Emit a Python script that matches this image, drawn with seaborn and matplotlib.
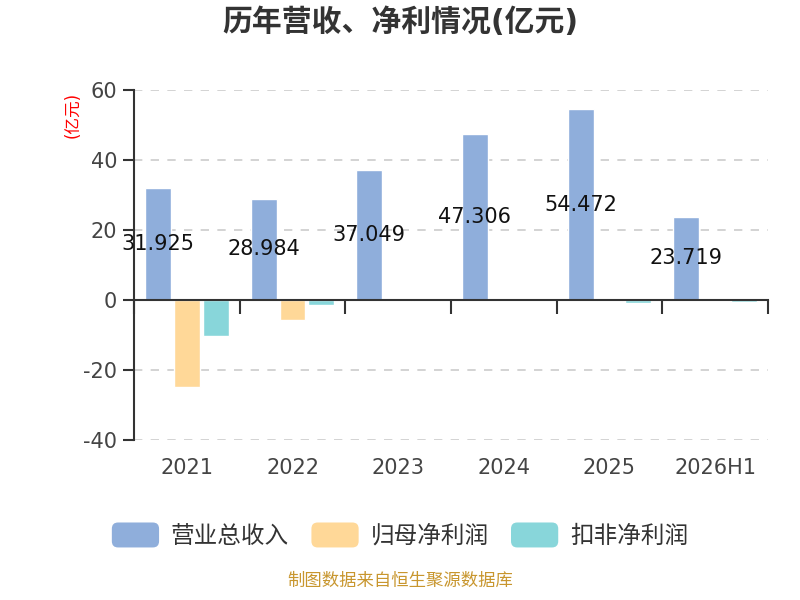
import matplotlib
matplotlib.use("Agg")
import matplotlib.pyplot as plt
import seaborn as sns
import pandas as pd
from matplotlib.patches import FancyBboxPatch
from matplotlib.legend_handler import HandlerPatch

years = ["2021", "2022", "2023", "2024", "2025", "2026H1"]
revenue = [31.925, 28.984, 37.049, 47.306, 54.472, 23.719]
net_profit = [-25.0, -5.85, -0.3, 0.3, -0.4, -0.3]
deducted_profit = [-10.4, -1.3, -0.3, 0.2, -1.0, -0.5]
series_names = ["营业总收入", "归母净利润", "扣非净利润"]
colors = ["#8FAEDB", "#FFD898", "#88D6DA"]

df = pd.DataFrame({
    "year": years * 3,
    "value": revenue + net_profit + deducted_profit,
    "series": [series_names[0]] * 6 + [series_names[1]] * 6 + [series_names[2]] * 6,
})

sns.set_theme(style="white")
plt.rcParams['font.family'] = ['DejaVu Sans', 'Noto Sans CJK SC']
plt.rcParams['axes.unicode_minus'] = False

fig = plt.figure(figsize=(8, 6), dpi=100)
ax = fig.add_axes([0.1675, 0.2667, 0.7925, 0.5833])

sns.barplot(data=df, x="year", y="value", hue="series", palette=colors,
            width=0.82, gap=0.1, ax=ax, legend=False, saturation=1, errorbar=None)

ax.set_ylim(-40, 60)
ax.set_xlim(-0.5, 5.5)
ax.set_yticks([-40, -20, 0, 20, 40, 60])
ax.tick_params(axis='y', labelsize=15, colors='#333333', length=8, width=1.5, pad=4, direction='out', left=True)
for lab in ax.get_yticklabels():
    lab.set_color('#444444')
for y in [-40, -20, 20, 40, 60]:
    ax.axhline(y, color='#cccccc', linestyle=(0, (5, 5)), linewidth=1.2, zorder=0)

for s in ['top', 'right']:
    ax.spines[s].set_visible(False)
ax.spines['left'].set_color('#333333')
ax.spines['left'].set_linewidth(1.5)
ax.spines['bottom'].set_position(('data', 0))
ax.spines['bottom'].set_color('#333333')
ax.spines['bottom'].set_linewidth(1.5)
ax.set_xticks([i - 0.5 for i in range(7)])
ax.set_xticklabels([])
ax.tick_params(axis='x', length=10, width=1.5, colors='#333333', direction='out', bottom=True)
ax.set_xlabel("")
ax.set_ylabel("")

sec = ax.secondary_xaxis('bottom')
sec.set_xticks(range(len(years)))
sec.set_xticklabels(years)
sec.tick_params(length=0, labelsize=15, pad=13, colors='#444444')
sec.spines['bottom'].set_visible(False)

for p in ax.containers[0]:
    h = p.get_height()
    ax.text(p.get_x() + p.get_width() / 2, h / 2, f"{h:.3f}", ha='center', va='center',
            fontsize=15, color='#111111', zorder=5)

fig.text(0.5, 0.963, "历年营收、净利情况(亿元)", ha='center', va='center', fontsize=21.5,
         fontweight='bold', color='#333333')
fig.text(0.091, 0.808, "(亿元)", rotation=90, ha='center', va='center', fontsize=12, color='red')
fig.text(0.5, 0.017, "制图数据来自恒生聚源数据库", ha='center', va='bottom', fontsize=12.5,
         color='#C8962E')


class RoundHandler(HandlerPatch):
    def create_artists(self, legend, orig_handle, xdescent, ydescent, width, height, fontsize, trans):
        p = FancyBboxPatch((-xdescent, -ydescent), width, height,
                           boxstyle="round,pad=0,rounding_size=%f" % (height * 0.25),
                           facecolor=orig_handle.get_facecolor(), edgecolor='none', transform=trans)
        return [p]


handles = [FancyBboxPatch((0, 0), 1, 1, facecolor=c, edgecolor='none') for c in colors]
leg = fig.legend(handles, series_names, loc='center', bbox_to_anchor=(0.5, 0.108), ncol=3,
                 frameon=False, fontsize=17, handlelength=2.0, handleheight=1.25,
                 handletextpad=0.5, columnspacing=0.95,
                 handler_map={FancyBboxPatch: RoundHandler()})
for t in leg.get_texts():
    t.set_color('#333333')

fig.savefig("out.png", dpi=100)
